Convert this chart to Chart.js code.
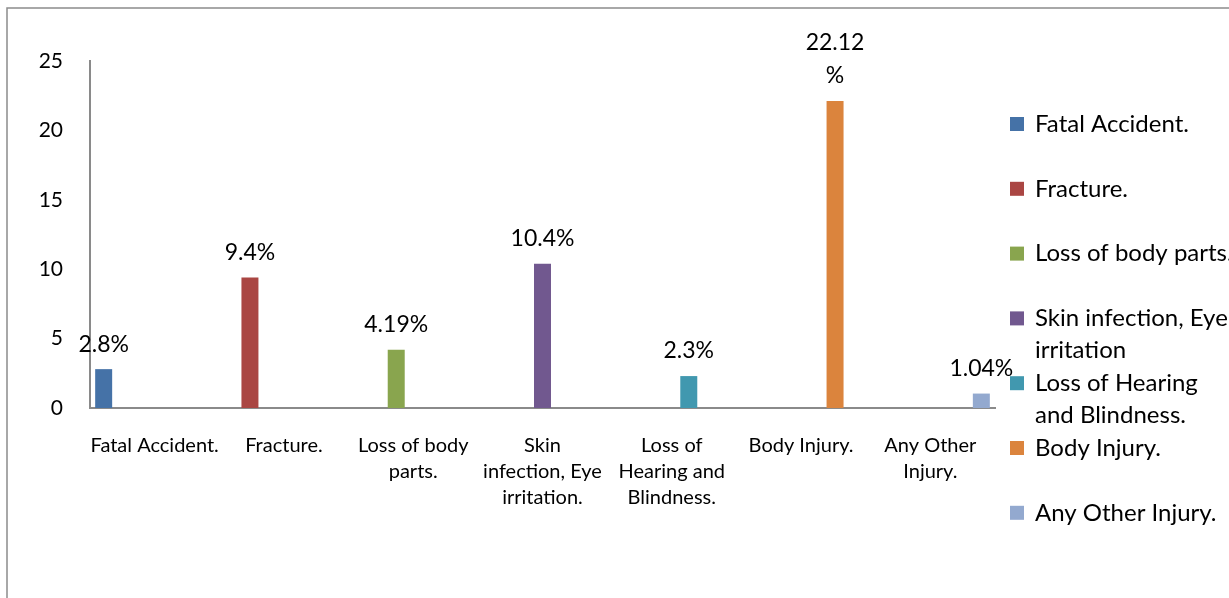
<!DOCTYPE html>
<html>
<head>
<meta charset="utf-8">
<script src="https://cdn.jsdelivr.net/npm/chart.js@4/dist/chart.umd.min.js"></script>
<style>
  html, body { margin: 0; padding: 0; background: #fff; }
  #wrap { width: 1229px; height: 598px; }
</style>
</head>
<body>
<div id="wrap"><canvas id="chart" width="1229" height="598"></canvas></div>
<script>
// values (percent of respondents)
const categories = [
  'Fatal Accident.',
  'Fracture.',
  ['Loss of body', 'parts.'],
  ['Skin', 'infection, Eye', 'irritation.'],
  ['Loss of', 'Hearing and', 'Blindness.'],
  'Body Injury.',
  ['Any Other', 'Injury.']
]
const seriesNames = [
  ['Fatal Accident.'],
  ['Fracture.'],
  ['Loss of body parts.'],
  ['Skin infection, Eye', 'irritation'],
  ['Loss of Hearing', 'and Blindness.'],
  ['Body Injury.'],
  ['Any Other Injury.']
]
const values = [2.8, 9.4, 4.19, 10.4, 2.3, 22.12, 1.04]
const valueLabels = [['2.8%'], ['9.4%'], ['4.19%'], ['10.4%'], ['2.3%'], ['22.12', '%'], ['1.04%']]
const colors = ['#4572A7', '#AA4643', '#89A54E', '#71588F', '#4198AF', '#DB843D', '#93A9CF']
const yTicks = [0, 5, 10, 15, 20, 25]

const FONT = 'Lato, "Open Sans", sans-serif'
const AXIS = '#8a8a8a'

// each injury type is its own series, sitting only in its own category
const datasets = values.map((v, i) => ({
  label: seriesNames[i].join(' '),
  data: values.map((_, j) => (j === i ? v : null)),
  backgroundColor: colors[i],
  barPercentage: 1.0,
  categoryPercentage: 0.92
}))

const frame = {
  id: 'frame',
  beforeDraw(chart) {
    const c = chart.ctx
    c.save()
    c.fillStyle = '#fff'
    c.fillRect(0, 0, chart.width, chart.height)
    c.strokeStyle = '#8c8c8c'
    c.lineWidth = 1.5
    c.strokeRect(7, 8, chart.width + 20, chart.height + 20)
    c.restore()
  }
}

const barLabels = {
  id: 'barLabels',
  afterDatasetsDraw(chart) {
    const c = chart.ctx
    c.save()
    c.font = '23px ' + FONT
    c.fillStyle = '#000'
    c.textAlign = 'center'
    c.textBaseline = 'middle'
    chart.data.datasets.forEach((ds, i) => {
      const bar = chart.getDatasetMeta(i).data[i]
      const lines = valueLabels[i]
      lines.forEach((t, k) => {
        c.fillText(t, bar.x, bar.y - 25 - (lines.length - 1 - k) * 33)
      })
    })
    c.restore()
  }
}

const sideLegend = {
  id: 'sideLegend',
  afterDraw(chart) {
    const c = chart.ctx
    c.save()
    c.font = '24px ' + FONT
    c.textAlign = 'left'
    c.textBaseline = 'middle'
    seriesNames.forEach((lines, i) => {
      const y = 124 + i * 64.8
      c.fillStyle = colors[i]
      c.fillRect(1010, y - 7, 14, 14)
      c.fillStyle = '#000'
      lines.forEach((t, k) => c.fillText(t, 1035, y + k * 32))
    })
    c.restore()
  }
}

new Chart(document.getElementById('chart'), {
  type: 'bar',
  data: { labels: categories, datasets: datasets },
  options: {
    responsive: false,
    animation: false,
    layout: { padding: { top: 61, right: 234, left: 0, bottom: 0 } },
    plugins: { legend: { display: false }, tooltip: { enabled: false } },
    scales: {
      x: {
        grid: { display: false, drawTicks: false },
        border: { display: true, color: AXIS, width: 2 },
        ticks: {
          color: '#000',
          font: { family: FONT, size: 20, lineHeight: 1.3 },
          padding: 25,
          maxRotation: 0,
          autoSkip: false
        },
        afterFit(s) { s.height = 190 }
      },
      y: {
        min: 0,
        max: 25,
        afterBuildTicks(s) { s.ticks = yTicks.map(v => ({ value: v })) },
        grid: { display: false, drawTicks: false },
        border: { display: true, color: AXIS, width: 2 },
        ticks: {
          color: '#000',
          font: { family: FONT, size: 21 },
          padding: 27
        },
        afterFit(s) { s.width = 90 }
      }
    }
  },
  plugins: [frame, barLabels, sideLegend]
})
</script>
</body>
</html>
